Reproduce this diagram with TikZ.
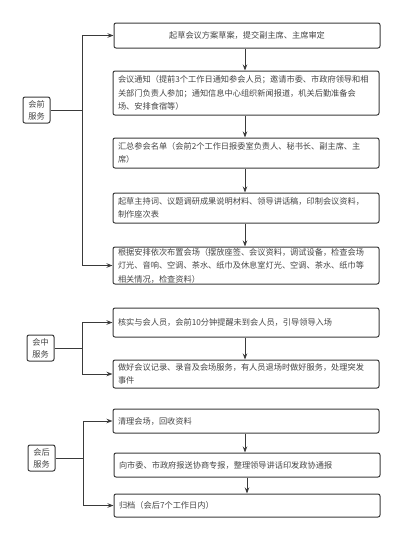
\documentclass[tikz,border=0pt]{standalone}
\usepackage{fontspec}
\newfontfamily\cjk{Noto Sans CJK SC}
\usetikzlibrary{arrows.meta}
\definecolor{linec}{HTML}{3A3A3A}
\definecolor{txtc}{HTML}{444444}
\begin{document}
\begin{tikzpicture}[x=1pt,y=-1pt,
  box/.style={draw=linec, line width=1pt, rounded corners=2pt, minimum width=266pt,
    text width=256pt, align=left, inner sep=0pt,
    font=\cjk\fontsize{8.2}{13.5}\selectfont, text=txtc},
  lab/.style={draw=linec, line width=1pt, rounded corners=2pt, minimum width=27pt,
    minimum height=26pt, inner sep=0pt, align=center,
    font=\cjk\fontsize{8.2}{12}\selectfont, text=txtc},
  conn/.style={draw=linec, line width=1pt},
  arr/.style={conn, -{Stealth[length=6pt,width=4.5pt]}}]
\useasboundingbox (0,0) rectangle (410,547);
% group 1
\node[box, align=center, minimum height=25pt] (b1) at (247,35.5) {起草会议方案草案，提交副主席、主席审定};
\node[box, minimum height=44pt] (b2) at (246,93) {会议通知（提前3个工作日通知参会人员；邀请市委、市政府领导和相\\关部门负责人参加；通知信息中心组织新闻报道，机关后勤准备会\\场、安排食宿等）};
\node[box, minimum height=30pt] (b3) at (246,153) {汇总参会名单（会前2个工作日报委室负责人、秘书长、副主席、主\\席）};
\node[box, minimum height=30pt] (b4) at (246,208) {起草主持词、议题调研成果说明材料、领导讲话稿，印制会议资料，\\制作座次表};
\node[box, minimum height=37pt] (b5) at (246,265.5) {根据安排依次布置会场（摆放座签、会议资料，调试设备，检查会场\\灯光、音响、空调、茶水、纸巾及休息室灯光、空调、茶水、纸巾等\\相关情况，检查资料）};
\node[lab] (l1) at (36.5,110) {会前\\服务};
\coordinate (t1) at (82,110);
\draw[conn] (l1) -- (t1);
\draw[arr] (t1) |- (b1);
\draw[arr] (t1) |- (b5);
\draw[arr] (b1.south -| 245,0) -- (b2.north -| 245,0);
\draw[arr] (b2.south -| 245,0) -- (b3.north -| 245,0);
\draw[arr] (b3.south -| 245,0) -- (b4.north -| 245,0);
\draw[arr] (b4.south -| 245,0) -- (b5.north -| 245,0);
% group 2
\node[box, minimum height=29pt] (b6) at (246,322.5) {核实与会人员，会前10分钟提醒未到会人员，引导领导入场};
\node[box, minimum height=28pt] (b7) at (246,374) {做好会议记录、录音及会场服务，有人员退场时做好服务，处理突发\\事件};
\node[lab] (l2) at (40.5,348) {会中\\服务};
\coordinate (t2) at (82,348);
\draw[conn] (l2) -- (t2);
\draw[arr] (t2) |- (b6);
\draw[arr] (t2) |- (b7);
\draw[arr] (b6.south -| 245,0) -- (b7.north -| 245,0);
% group 3
\node[box, minimum height=24pt] (b8) at (246,421) {清理会场，回收资料};
\node[box, minimum height=24pt] (b9) at (247,465) {向市委、市政府报送协商专报，整理领导讲话印发政协通报};
\node[box, minimum height=23pt] (b10) at (247,505.5) {归档（会后7个工作日内）};
\node[lab] (l3) at (41.5,458) {会后\\服务};
\coordinate (t3) at (83,458);
\draw[conn] (l3) -- (t3);
\draw[arr] (t3) |- (b8);
\draw[arr] (t3) |- (b10);
\draw[arr] (b8.south -| 245,0) -- (b9.north -| 245,0);
\draw[arr] (b9.south -| 247,0) -- (b10.north -| 247,0);
\end{tikzpicture}
\end{document}
